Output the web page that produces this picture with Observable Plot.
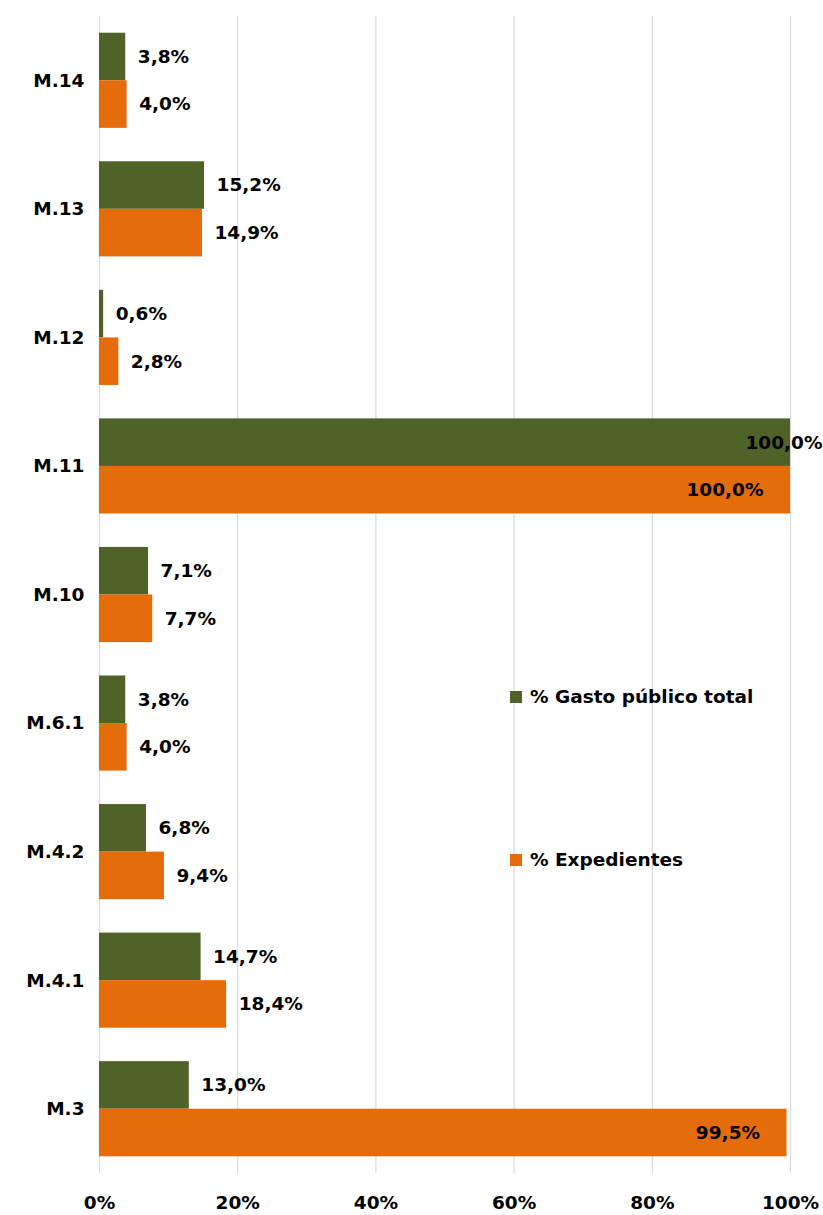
<!DOCTYPE html>
<html>
<head>
<meta charset="utf-8">
<script src="https://cdn.jsdelivr.net/npm/d3@7"></script>
<script src="https://cdn.jsdelivr.net/npm/@observablehq/plot@0.6"></script>
<style>
  html, body { margin: 0; padding: 0; background: #fff; }
  #wrap { position: relative; width: 823px; height: 1215px; font-family: "DejaVu Sans", sans-serif; font-weight: bold; }
  .leg { position: absolute; display: flex; align-items: center; font-size: 18.5px; color: #000; white-space: nowrap; }
  .leg span.sw { display: inline-block; width: 12px; height: 12px; margin-right: 8px; }
</style>
</head>
<body>
<div id="wrap"></div>
<script>
const categories = ["M.14","M.13","M.12","M.11","M.10","M.6.1","M.4.2","M.4.1","M.3"];
const gasto = [3.8, 15.2, 0.6, 100.0, 7.1, 3.8, 6.8, 14.7, 13.0];
const expedientes = [4.0, 14.9, 2.8, 100.0, 7.7, 4.0, 9.4, 18.4, 99.5];
const seriesNames = ["% Gasto público total", "% Expedientes"];
const colors = ["#4F6228", "#E46C0A"];
const xTicks = [0, 20, 40, 60, 80, 100];

const W = 823, H = 1215, mT = 16, mB = 42, mL = 99, mR = 33;
const pIn = 0.26, pOut = 0.13;
const step = (H - mT - mB) / (categories.length - pIn + 2 * pOut);
const half = step * (1 - pIn) / 2;

const fmt = v => v.toFixed(1).replace(".", ",") + "%";
const g = categories.map((c, i) => ({cat: c, v: gasto[i]}));
const e = categories.map((c, i) => ({cat: c, v: expedientes[i]}));
const isIn = d => d.v >= 99;

const font = "'DejaVu Sans', sans-serif";

const chart = Plot.plot({
  width: W, height: H,
  marginTop: mT, marginBottom: mB, marginLeft: mL, marginRight: mR,
  style: {fontFamily: font, fontSize: "18.5px", fontWeight: "bold", color: "#000", background: "#fff"},
  x: {domain: [0, 100], ticks: xTicks, tickFormat: d => d + "%"},
  y: {domain: categories, paddingInner: pIn, paddingOuter: pOut, round: false},
  marks: [
    Plot.gridX(xTicks, {stroke: "#d9d9d9", strokeOpacity: 1, strokeWidth: 1.2}),
    Plot.barX(g, {x: "v", y: "cat", fill: colors[0], insetBottom: half}),
    Plot.barX(e, {x: "v", y: "cat", fill: colors[1], insetTop: half}),
    Plot.text(g.filter(d => !isIn(d)), {x: "v", y: "cat", text: d => fmt(d.v), dy: -half / 2, dx: 12, textAnchor: "start", fill: "#000"}),
    Plot.text(e.filter(d => !isIn(d)), {x: "v", y: "cat", text: d => fmt(d.v), dy: half / 2, dx: 12, textAnchor: "start", fill: "#000"}),
    Plot.text(g.filter(isIn), {x: "v", y: "cat", text: d => fmt(d.v), dy: -half / 2, dx: 32, textAnchor: "end", fill: "#000"}),
    Plot.text(e.filter(isIn), {x: "v", y: "cat", text: d => fmt(d.v), dy: half / 2, dx: -27, textAnchor: "end", fill: "#000"}),
    Plot.axisX({ticks: xTicks, tickFormat: d => d + "%", tickSize: 0, tickPadding: 22, label: null, fontWeight: "bold"}),
    Plot.axisY({tickSize: 0, tickPadding: 15, label: null, fontWeight: "bold"})
  ]
});

const wrap = document.getElementById("wrap");
wrap.appendChild(chart);
const legendTops = [686, 849];
seriesNames.forEach((n, i) => {
  const d = document.createElement("div");
  d.className = "leg";
  d.style.left = "510px";
  d.style.top = legendTops[i] + "px";
  d.innerHTML = `<span class="sw" style="background:${colors[i]}"></span>${n}`;
  wrap.appendChild(d);
});
</script>
</body>
</html>
